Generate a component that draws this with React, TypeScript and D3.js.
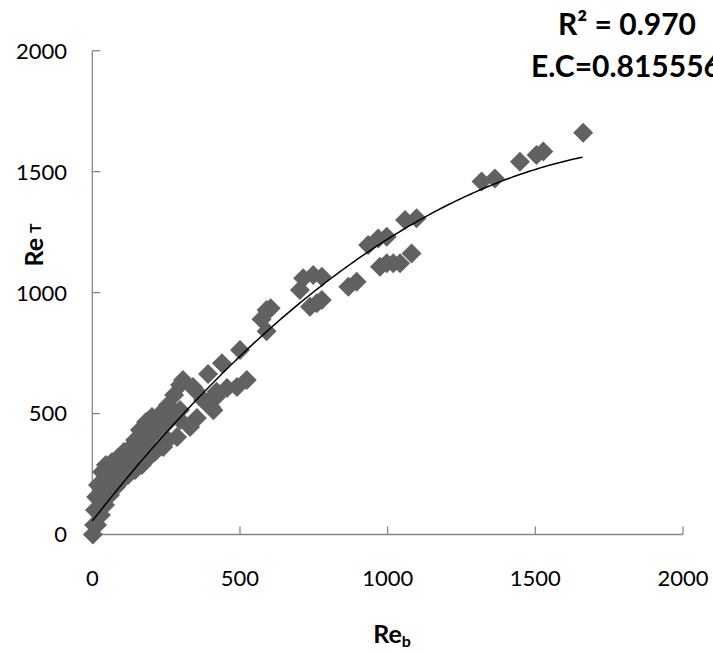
import React from "react";
import * as d3 from "d3";

// Re_b values of the scatter points
const reB = [
  2, 16, 29, 43, 60, 80, 101, 121, 145, 168, 189, 212, 236, 256,
  6, 9, 13, 19, 33, 46, 67, 87, 107, 128, 145, 161, 182, 202, 229, 256, 277, 297, 307,
  26, 40, 53, 67, 87, 111, 128, 155, 178, 195, 212, 229, 246, 263, 280, 297, 348,
  297, 331, 287, 240, 341, 375, 402, 419, 456, 490, 523, 392, 439, 500, 354, 410,
  421, 398, 376, 573, 590, 604, 590,
  714, 748, 777, 703, 737, 760, 777, 867, 895, 934, 968, 997, 974, 997, 1019, 1042, 1081, 1059, 1098,
  1318, 1363, 1448, 1504, 1527, 1662,
];
// Re_T values of the scatter points
const reT = [
  0, 39, 81, 122, 163, 196, 225, 246, 267, 287, 316, 341, 366, 391,
  39, 101, 155, 205, 258, 287, 300, 316, 341, 358, 391, 432, 465, 486, 498, 535, 577, 618, 639,
  143, 184, 225, 246, 267, 287, 308, 329, 370, 399, 424, 440, 453, 474, 494, 515, 597,
  473, 444, 403, 362, 610, 556, 527, 568, 606, 610, 639, 664, 708, 763, 482, 514,
  590, 556, 556, 890, 840, 935, 928,
  1059, 1073, 1066, 1011, 942, 956, 969, 1024, 1045, 1197, 1224, 1231, 1107, 1121, 1121, 1121, 1162, 1300, 1307,
  1459, 1472, 1541, 1569, 1583, 1661,
];
const xTicks = [0, 500, 1000, 1500, 2000];
const yTicks = [0, 500, 1000, 1500, 2000];
// polynomial trendline (order 2), coefficients
const trendCoef = [56, 1.558, -3.928e-4];
const trendRange = [0, 1662];
const r2Label = "R² = 0.970";
const ecLabel = "E.C=0.815556";

export default function App() {
  const W = 713, H = 654;
  const x = d3.scaleLinear().domain([0, 2000]).range([92.3, 683]);
  const y = d3.scaleLinear().domain([0, 2000]).range([534.5, 50.7]);
  const axisColor = "#868686";
  const font = "Lato, 'Open Sans', sans-serif";
  const diamond = d3.symbol().type(d3.symbolSquare).size(200)()!;

  const trendPts = d3.range(trendRange[0], trendRange[1] + 1, 10).map((v) => [
    v,
    trendCoef[0] + trendCoef[1] * v + trendCoef[2] * v * v,
  ]);
  const line = d3
    .line<number[]>()
    .x((d) => x(d[0]))
    .y((d) => y(d[1]))
    .curve(d3.curveLinear);

  return (
    <svg
      width={W}
      height={H}
      style={{ position: "absolute", left: 0, top: 0, background: "#fff" }}
    >
      {/* axes */}
      <line x1={x(0)} x2={x(0)} y1={y(0)} y2={y(2000)} stroke={axisColor} strokeWidth={1.3} />
      <line x1={x(0)} x2={x(2000)} y1={y(0)} y2={y(0)} stroke={axisColor} strokeWidth={1.3} />
      {yTicks.filter((t) => t > 0).map((t) => (
        <line key={"yt" + t} x1={x(0)} x2={x(0) + 8} y1={y(t)} y2={y(t)} stroke={axisColor} strokeWidth={1.3} />
      ))}
      {xTicks.filter((t) => t > 0).map((t) => (
        <line key={"xt" + t} x1={x(t)} x2={x(t)} y1={y(0)} y2={y(0) - 8} stroke={axisColor} strokeWidth={1.3} />
      ))}
      {yTicks.map((t) => (
        <text key={"yl" + t} x={67} y={y(t)} dy="0.36em" textAnchor="end" fontFamily={font} fontSize={22} fill="#000">
          {t}
        </text>
      ))}
      {xTicks.map((t) => (
        <text key={"xl" + t} x={x(t)} y={578} dy="0.36em" textAnchor="middle" fontFamily={font} fontSize={22} fill="#000">
          {t}
        </text>
      ))}

      {/* points */}
      {reB.map((b, i) => (
        <path
          key={"p" + i}
          d={diamond}
          transform={`translate(${x(b)},${y(reT[i])}) rotate(45)`}
          fill="#616161"
        />
      ))}

      {/* trendline */}
      <path d={line(trendPts)!} fill="none" stroke="#000" strokeWidth={1.5} />

      {/* axis titles */}
      <text x={392} y={643} textAnchor="middle" fontFamily={font} fontSize={25} fontWeight="bold" fill="#000">
        Re<tspan fontSize={16} dy={4}>b</tspan>
      </text>
      <text
        transform="translate(43,245) rotate(-90)"
        textAnchor="middle"
        fontFamily={font}
        fontSize={25}
        fontWeight="bold"
        fill="#000"
      >
        Re<tspan fontSize={16} dx={5} dy={-2}>T</tspan>
      </text>

      {/* annotations */}
      <text x={558} y={35} fontFamily={font} fontSize={30} fontWeight="bold" fill="#000">
        {r2Label}
      </text>
      <text x={531} y={77} fontFamily={font} fontSize={30} fontWeight="bold" fill="#000">
        {ecLabel}
      </text>
    </svg>
  );
}
